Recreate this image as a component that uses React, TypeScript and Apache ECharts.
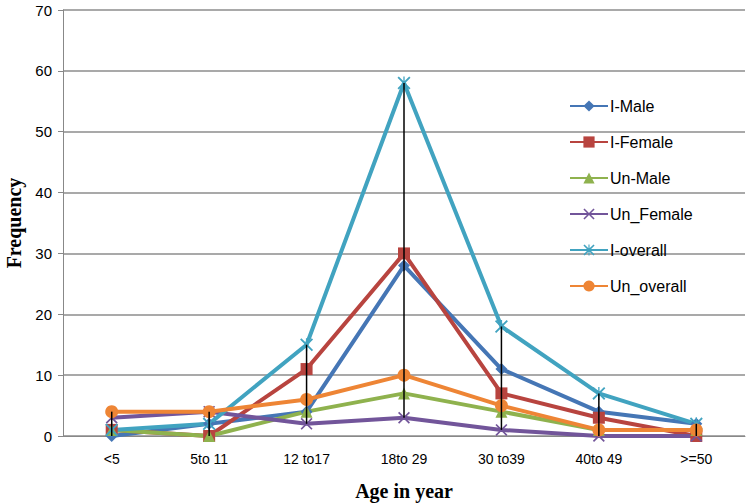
import React, { useEffect, useRef } from "react";
import * as echarts from "echarts";

const categories = ["<5", "5to 11", "12 to17", "18to 29", "30 to39", "40to 49", ">=50"];
const iMale = [0, 2, 4, 28, 11, 4, 2];
const iFemale = [1, 0, 11, 30, 7, 3, 0];
const unMale = [1, 0, 4, 7, 4, 1, 1];
const unFemale = [3, 4, 2, 3, 1, 0, 0];
const iOverall = [1, 2, 15, 58, 18, 7, 2];
const unOverall = [4, 4, 6, 10, 5, 1, 1];
const yTicks = [0, 10, 20, 30, 40, 50, 60, 70];

const crossPath =
  "path://M0,1L1,0L5,4L9,0L10,1L6,5L10,9L9,10L5,6L1,10L0,9L4,5Z";
const starPath =
  "path://M0,1L1,0L4.5,3.5L4.5,0L5.5,0L5.5,3.5L9,0L10,1L6,5L10,9L9,10L5.5,6.5L5.5,10L4.5,10L4.5,6.5L1,10L0,9L4,5Z";

export default function App() {
  const ref = useRef<HTMLDivElement>(null);
  useEffect(() => {
    if (!ref.current) return;
    const chart = echarts.init(ref.current, null, { renderer: "svg" });
    const seriesDefs = [
      { name: "I-Male", data: iMale, color: "#4576B5", symbol: "diamond", size: 12 },
      { name: "I-Female", data: iFemale, color: "#B8443F", symbol: "rect", size: 12 },
      { name: "Un-Male", data: unMale, color: "#8FB24E", symbol: "triangle", size: 12 },
      { name: "Un_Female", data: unFemale, color: "#72559A", symbol: crossPath, size: 12 },
      { name: "I-overall", data: iOverall, color: "#41A3C0", symbol: starPath, size: 13 },
      { name: "Un_overall", data: unOverall, color: "#EE8535", symbol: "circle", size: 13 },
    ];
    const all = seriesDefs.map((s) => s.data);
    const hiLo = categories.map((_, i) => {
      const vals = all.map((d) => d[i]);
      return [i, Math.min(...vals), Math.max(...vals)];
    });
    const option: any = {
      animation: false,
      grid: { left: 63, right: 5, top: 10, bottom: 68, outerBoundsMode: "none", containLabel: false },
      legend: {
        orient: "vertical",
        left: 564,
        top: 93,
        itemWidth: 38,
        itemHeight: 14,
        itemGap: 20,
        textStyle: { fontFamily: "Liberation Sans", fontSize: 16, lineHeight: 14, color: "#000", padding: [0, 0, 0, -3] },
        data: seriesDefs.map((s) => s.name),
      },
      xAxis: {
        type: "category",
        data: categories,
        boundaryGap: true,
        name: "Age in year",
        nameLocation: "middle",
        nameGap: 45,
        nameTextStyle: { fontFamily: "Liberation Serif", fontWeight: "bold", fontSize: 20, color: "#000" },
        axisLine: { lineStyle: { color: "#888", width: 1 } },
        axisTick: { show: false },
        axisLabel: { fontFamily: "Liberation Sans", fontSize: 14, color: "#000", margin: 16 },
      },
      yAxis: {
        type: "value",
        min: yTicks[0],
        max: yTicks[yTicks.length - 1],
        interval: 10,
        name: "Frequency",
        nameLocation: "middle",
        nameGap: 39,
        nameTextStyle: { fontFamily: "Liberation Serif", fontWeight: "bold", fontSize: 20, color: "#000" },
        axisLine: { show: true, lineStyle: { color: "#888", width: 1 } },
        axisTick: { show: true, length: 5, lineStyle: { color: "#888" } },
        axisLabel: { fontFamily: "Liberation Sans", fontSize: 15, color: "#000", margin: 11 },
        splitLine: { lineStyle: { color: "#8c8c8c", width: 1.5 } },
      },
      series: [
        ...seriesDefs.map((s) => ({
          name: s.name,
          type: "line",
          data: s.data,
          symbol: s.symbol,
          symbolSize: s.size,
          showAllSymbol: true,
          color: s.color,
          lineStyle: { color: s.color, width: 4 },
          itemStyle: { color: s.color },
          z: 2,
        })),
        {
          type: "custom",
          name: "hilo",
          data: hiLo,
          z: 5,
          silent: true,
          renderItem: (params: any, api: any) => {
            const p1 = api.coord([api.value(0), api.value(1)]);
            const p2 = api.coord([api.value(0), api.value(2)]);
            return {
              type: "line",
              shape: { x1: p1[0], y1: p1[1], x2: p2[0], y2: p2[1] },
              style: { stroke: "#000", lineWidth: 1.5 },
            };
          },
        },
      ],
    };
    chart.setOption(option);
    return () => chart.dispose();
  }, []);
  return <div ref={ref} style={{ width: 750, height: 504, position: "absolute", left: 0, top: 0 }} />;
}
